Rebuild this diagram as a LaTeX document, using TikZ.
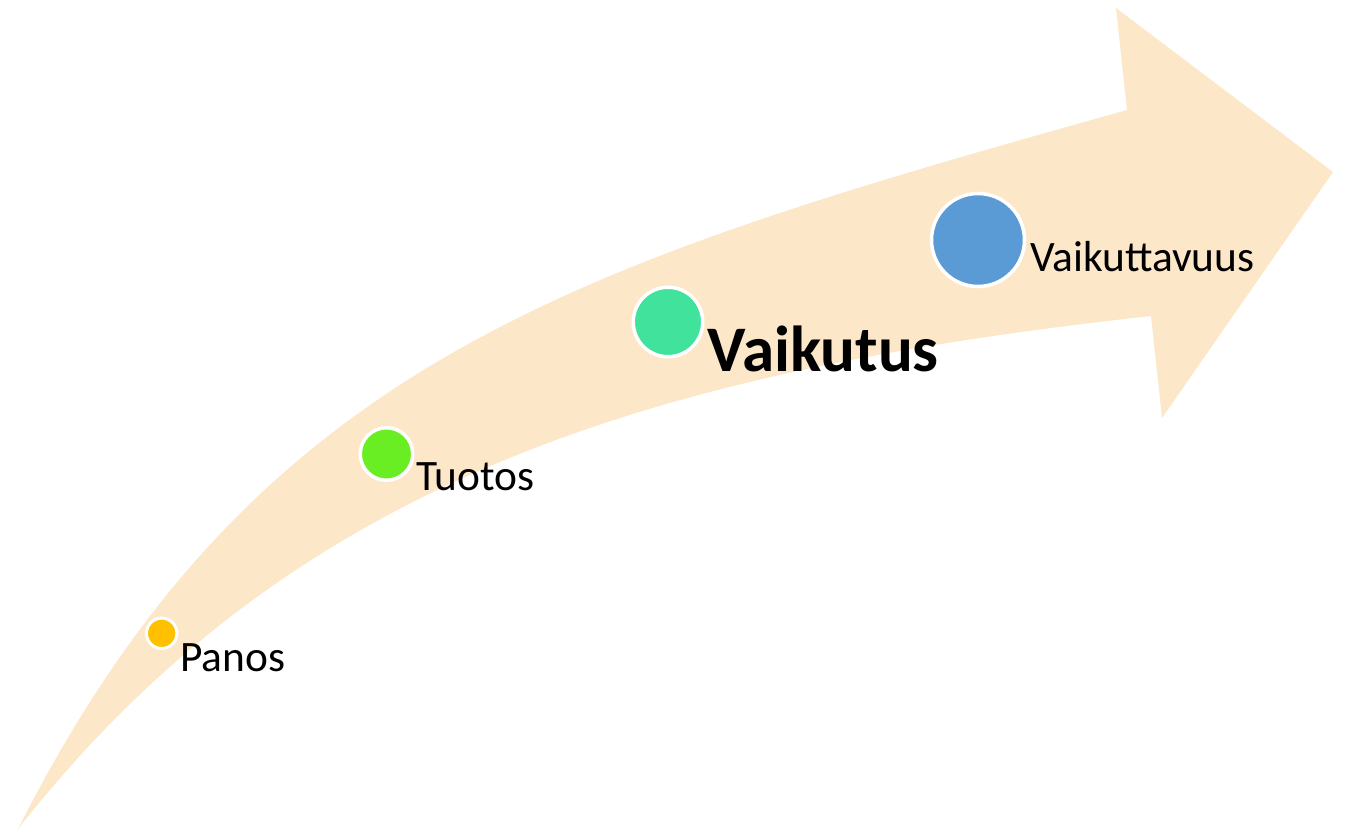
\documentclass[tikz,border=0pt]{standalone}
\usepackage{fontspec}
\setmainfont{Carlito}
\definecolor{arrowfill}{RGB}{253,231,201}
\definecolor{cpanos}{RGB}{255,192,0}
\definecolor{ctuotos}{RGB}{104,238,34}
\definecolor{cvaikutus}{RGB}{64,226,156}
\definecolor{cvaik}{RGB}{91,155,213}
\tikzset{
  dot/.style={circle, draw=white, inner sep=0pt},
  lbl/.style={anchor=base west, inner sep=0pt, text=black, font=\fontsize{43.4}{50}\selectfont},
}
\begin{document}
\begin{tikzpicture}[x=1pt, y=-1pt]
\useasboundingbox (0,0) rectangle (1345,829);
\fill[arrowfill] (18,829) .. controls (255,360) and (577,264) .. (1127,110)
  -- (1116,8) -- (1333,172) -- (1162,418) -- (1151,316)
  .. controls (651,371) and (293,479) .. (18,829) -- cycle;
\node[dot, fill=cpanos, line width=3pt, minimum size=30.4pt] (panos) at (161.7,633.3) {};
\node[dot, fill=ctuotos, line width=3.5pt, minimum size=52.5pt] (tuotos) at (386.5,454) {};
\node[dot, fill=cvaikutus, line width=3.5pt, minimum size=69.5pt] (vaikutus) at (668,322) {};
\node[dot, fill=cvaik, line width=3.5pt, minimum size=93pt] (vaikuttavuus) at (978,240) {};
\node[lbl] (tpanos) at (180,671) {Panos};
\node[lbl] (ttuotos) at (416,490) {Tuotos};
\node[lbl, font=\fontsize{65}{72}\selectfont\bfseries] (tvaikutus) at (707,371) {Vaikutus};
\node[lbl] (tvaik) at (1030,272) {Vaikuttavuus};
\end{tikzpicture}
\end{document}
